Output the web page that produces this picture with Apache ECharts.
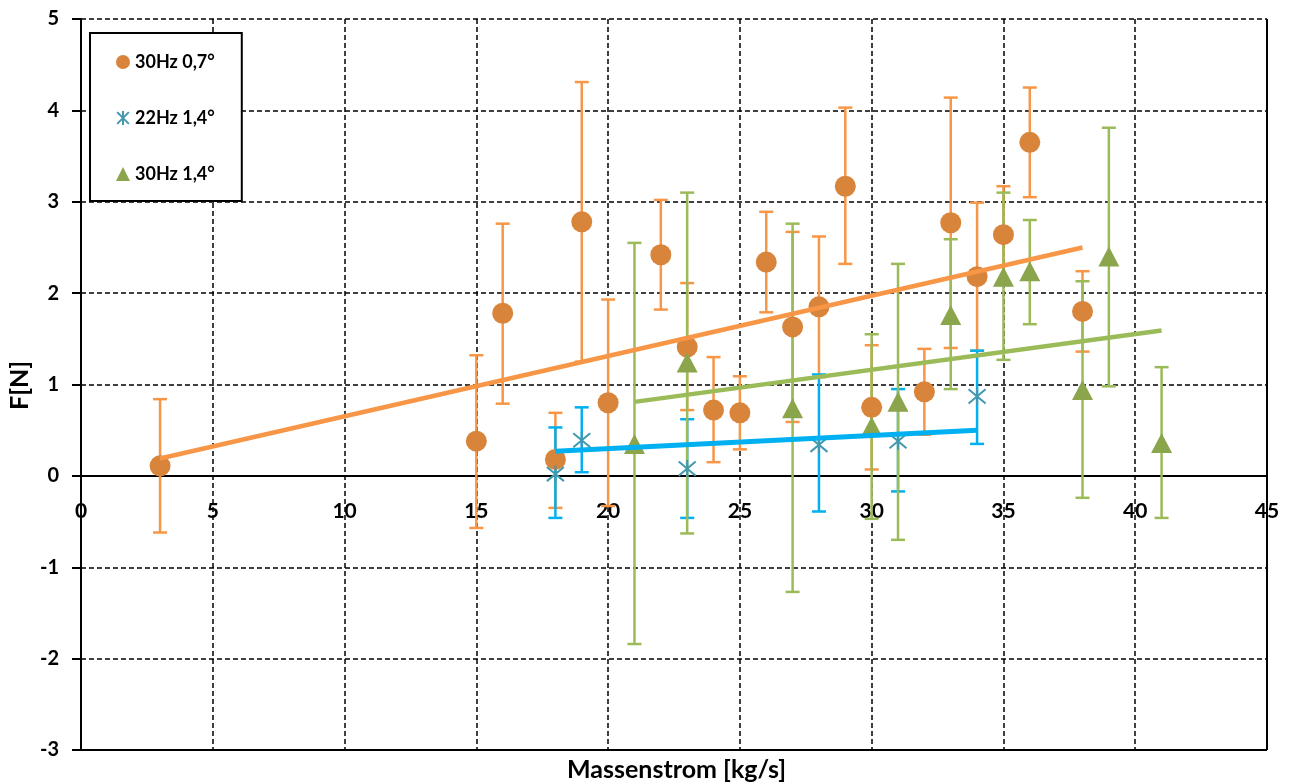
<!DOCTYPE html>
<html>
<head>
<meta charset="utf-8">
<script src="https://cdn.jsdelivr.net/npm/echarts@6/dist/echarts.min.js"></script>
<style>
html,body{margin:0;padding:0;background:#fff;}
#chart{width:1298px;height:784px;}
</style>
</head>
<body>
<div id="chart"></div>
<script>
// ---------- data ----------
const seriesNames = ['30Hz 0,7°', '22Hz 1,4°', '30Hz 1,4°'];

const orangeX    = [3, 15, 16, 18, 19, 20, 22, 23, 24, 25, 26, 27, 28, 29, 30, 32, 33, 34, 35, 36, 38];
const orangeY    = [0.11, 0.38, 1.78, 0.18, 2.78, 0.80, 2.42, 1.41, 0.72, 0.69, 2.34, 1.63, 1.85, 3.17, 0.75, 0.92, 2.77, 2.18, 2.64, 3.65, 1.80];
const orangeHigh = [0.84, 1.32, 2.76, 0.69, 4.31, 1.93, 3.02, 2.11, 1.30, 1.09, 2.89, 2.67, 2.62, 4.03, 1.43, 1.39, 4.14, 2.99, 3.17, 4.25, 2.24];
const orangeLow  = [-0.62, -0.57, 0.79, -0.35, 1.25, -0.33, 1.82, 0.72, 0.15, 0.29, 1.79, 0.59, 1.08, 2.32, 0.07, 0.45, 1.40, 1.37, 2.11, 3.05, 1.36];
const orangeTrend = [[3, 0.19], [38, 2.50]];

const blueX    = [18, 19, 23, 28, 31, 34];
const blueY    = [0.02, 0.39, 0.08, 0.34, 0.38, 0.87];
const blueHigh = [0.53, 0.75, 0.62, 1.11, 0.95, 1.37];
const blueLow  = [-0.46, 0.04, -0.46, -0.39, -0.17, 0.35];
const blueTrend = [[18, 0.27], [34, 0.50]];

const greenX    = [21, 23, 27, 30, 31, 33, 35, 36, 38, 39, 41];
const greenY    = [0.35, 1.24, 0.74, 0.54, 0.81, 1.76, 2.18, 2.24, 0.94, 2.40, 0.36];
const greenHigh = [2.55, 3.10, 2.76, 1.55, 2.32, 2.59, 3.10, 2.80, 2.13, 3.81, 1.19];
const greenLow  = [-1.84, -0.63, -1.27, -0.47, -0.70, 0.95, 1.27, 1.66, -0.24, 0.98, -0.46];
const greenTrend = [[21, 0.81], [41, 1.59]];

const xTickLabels = [0, 5, 10, 15, 20, 25, 30, 35, 40, 45];
const xTicks = {min: 0, max: 45, interval: 5};
const yTicks = {min: -3, max: 5, interval: 1};

// ---------- helpers ----------
const FONT = 'Lato, "Open Sans", "Liberation Sans", sans-serif';
const pts = (xs, ys) => xs.map((x, i) => [x, ys[i]]);
const errs = (xs, lo, hi) => xs.map((x, i) => [x, lo[i], hi[i]]);

function errorSeries(data, color) {
  return {
    type: 'custom',
    silent: true,
    encode: {x: 0, y: [1, 2]},
    data: data,
    renderItem: function (params, api) {
      const x = api.value(0), lo = api.value(1), hi = api.value(2);
      const t = api.coord([x, hi]), b = api.coord([x, lo]);
      const w = 7;
      const st = {stroke: color, lineWidth: 2.5};
      return {
        type: 'group',
        children: [
          {type: 'line', shape: {x1: t[0], y1: t[1], x2: b[0], y2: b[1]}, style: st},
          {type: 'line', shape: {x1: t[0] - w, y1: t[1], x2: t[0] + w, y2: t[1]}, style: st},
          {type: 'line', shape: {x1: b[0] - w, y1: b[1], x2: b[0] + w, y2: b[1]}, style: st}
        ]
      };
    }
  };
}

function trendSeries(data, color, width) {
  return {
    type: 'line', data: data, showSymbol: false, silent: true,
    lineStyle: {color: color, width: width}, z: 5
  };
}

const ORANGE_M = '#D9843B', ORANGE_L = '#F79646';
const TEAL_M = '#4298AF', CYAN_L = '#00B0F0';
const GREEN_M = '#8AA54B', GREEN_L = '#9BBB59';
const ASTERISK = 'path://M0,0L10,10M10,0L0,10M5,-1L5,11';

const chart = echarts.init(document.getElementById('chart'), null, {renderer: 'canvas'});

const option = {
  animation: false,
  backgroundColor: '#fff',
  grid: {left: 81, right: 31, top: 19, bottom: 34, containLabel: false, outerBoundsMode: 'none'},
  legend: {
    orient: 'vertical',
    left: 90, top: 33,
    padding: [20, 27, 18, 26],
    itemGap: 38,
    itemWidth: 14, itemHeight: 14,
    backgroundColor: '#fff',
    borderColor: '#000', borderWidth: 2,
    textStyle: {fontFamily: FONT, fontWeight: 'bold', fontSize: 18, color: '#000'},
    data: [
      {name: seriesNames[0], icon: 'circle'},
      {name: seriesNames[1], icon: ASTERISK, itemStyle: {color: 'transparent', borderColor: TEAL_M, borderWidth: 2}},
      {name: seriesNames[2], icon: 'triangle'}
    ]
  },
  xAxis: {
    type: 'value', min: xTicks.min, max: xTicks.max, interval: xTicks.interval,
    axisLine: {show: true, onZero: true, lineStyle: {color: '#000', width: 2}},
    axisTick: {show: false},
    axisLabel: {show: false},
    splitLine: {show: true, lineStyle: {color: '#000', type: [5, 3], width: 1.5}}
  },
  yAxis: {
    type: 'value', min: yTicks.min, max: yTicks.max, interval: yTicks.interval,
    axisLine: {show: true, onZero: false, lineStyle: {color: '#000', width: 2}},
    axisTick: {show: true, length: 9, lineStyle: {color: '#000', width: 2}},
    axisLabel: {fontFamily: FONT, fontWeight: 'bold', fontSize: 20, color: '#000', margin: 22},
    splitLine: {show: true, lineStyle: {color: '#000', type: [5, 3], width: 1.5}}
  },
  graphic: [
    {type: 'text', left: 567, top: 757,
     style: {text: 'Massenstrom [kg/s]', font: 'bold 25px ' + FONT, fill: '#000'}},
    {type: 'text', x: 7, y: 410, rotation: Math.PI / 2,
     style: {text: 'F[N]', font: 'bold 25px ' + FONT, fill: '#000'}}
  ],
  series: [
    // x-axis tick labels placed below the zero line (axis crosses at 0)
    {type: 'custom', silent: true, z: 1,
     encode: {x: 0, y: 1},
     data: xTickLabels.map(v => [v, 0]),
     renderItem: function (params, api) {
       const p = api.coord([api.value(0), api.value(1)]);
       return {type: 'text', x: p[0], y: p[1] + 25,
               style: {text: String(api.value(0)), fontFamily: FONT, fontWeight: 'bold', fontSize: 21,
                       fill: '#000', align: 'center', verticalAlign: 'top'}};
     }},
    errorSeries(errs(orangeX, orangeLow, orangeHigh), ORANGE_L),
    {name: seriesNames[0], type: 'scatter', data: pts(orangeX, orangeY), symbol: 'circle', symbolSize: 21,
     itemStyle: {color: ORANGE_M, opacity: 1}, z: 3,
     markLine: {silent: true, symbol: 'none', label: {show: false},
                lineStyle: {color: '#000', width: 2, type: 'solid'},
                data: [{yAxis: yTicks.min}, {xAxis: xTicks.max}]}},
    errorSeries(errs(blueX, blueLow, blueHigh), CYAN_L),
    {name: seriesNames[1], type: 'scatter', data: pts(blueX, blueY), symbol: ASTERISK, symbolSize: 17,
     itemStyle: {color: 'transparent', borderColor: TEAL_M, borderWidth: 2, opacity: 1}, z: 3},
    errorSeries(errs(greenX, greenLow, greenHigh), GREEN_L),
    {name: seriesNames[2], type: 'scatter', data: pts(greenX, greenY), symbol: 'triangle', symbolSize: [21, 20],
     itemStyle: {color: GREEN_M, opacity: 1}, z: 3},
    trendSeries(orangeTrend, ORANGE_L, 4.5),
    trendSeries(blueTrend, CYAN_L, 5),
    trendSeries(greenTrend, GREEN_L, 4.5)
  ]
};
chart.setOption(option);
</script>
</body>
</html>
